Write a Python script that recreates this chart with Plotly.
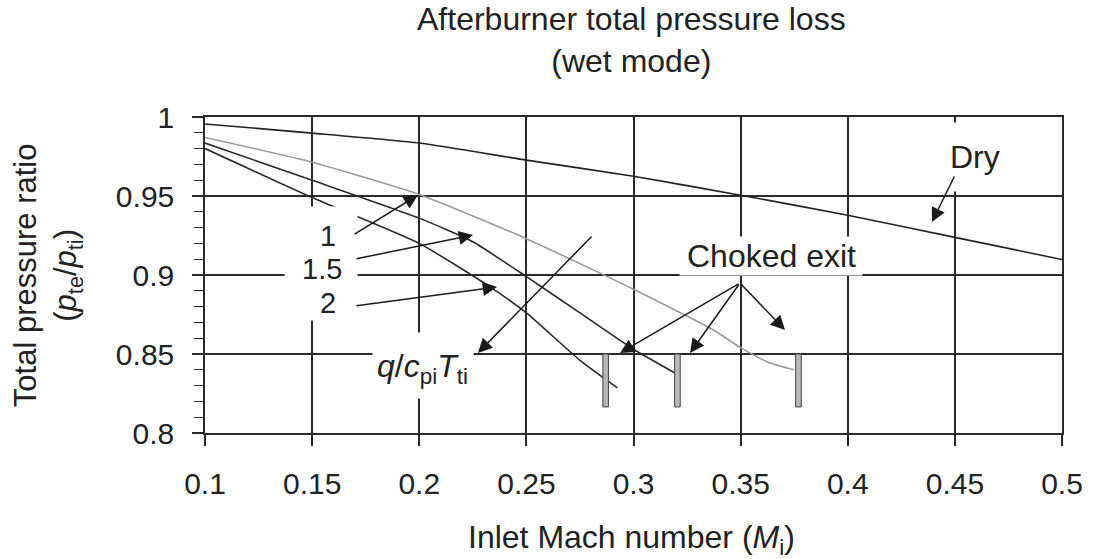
import plotly.graph_objects as go

# ---------------- data ----------------
mach_dry = [0.1, 0.15, 0.2, 0.25, 0.3, 0.35, 0.4, 0.45, 0.5]
p_dry = [0.9956, 0.9898, 0.9835, 0.9727, 0.9625, 0.9505, 0.9378, 0.9238, 0.9098]

mach_q1 = [0.1, 0.15, 0.2, 0.25, 0.3, 0.3375, 0.35, 0.3625, 0.375]
p_q1 = [0.987, 0.9714, 0.951, 0.923, 0.891, 0.865, 0.854, 0.845, 0.840]

mach_q15 = [0.1, 0.15, 0.2, 0.225, 0.25, 0.275, 0.3, 0.32]
p_q15 = [0.9835, 0.960, 0.936, 0.921, 0.899, 0.876, 0.853, 0.8375]

mach_q2 = [0.1, 0.15, 0.2, 0.233, 0.25, 0.275, 0.2925]
p_q2 = [0.980, 0.949, 0.920, 0.8925, 0.876, 0.846, 0.8286]

choke_mach = [0.287, 0.3205, 0.377]
choke_top = 0.85
choke_bottom = 0.8165

x_ticks = [0.1, 0.15, 0.2, 0.25, 0.3, 0.35, 0.4, 0.45, 0.5]
x_ticklabels = ["0.1", "0.15", "0.2", "0.25", "0.3", "0.35", "0.4", "0.45", "0.5"]
y_ticks = [0.8, 0.85, 0.9, 0.95, 1.0]
y_ticklabels = ["0.8", "0.85", "0.9", "0.95", "1"]

FONT = "Liberation Sans, Arial, sans-serif"
INK = "#222222"
GRID = "#2a2a2a"

fig = go.Figure()

fig.add_trace(go.Scatter(x=mach_dry, y=p_dry, mode="lines",
                         line=dict(color="#222222", width=1.6, shape="spline", smoothing=0.5),
                         showlegend=False, hoverinfo="skip"))
fig.add_trace(go.Scatter(x=mach_q1, y=p_q1, mode="lines",
                         line=dict(color="#9a9a9a", width=1.6, shape="spline", smoothing=0.5),
                         showlegend=False, hoverinfo="skip"))
fig.add_trace(go.Scatter(x=mach_q15, y=p_q15, mode="lines",
                         line=dict(color="#2a2a2a", width=1.6, shape="spline", smoothing=0.5),
                         showlegend=False, hoverinfo="skip"))
fig.add_trace(go.Scatter(x=mach_q2, y=p_q2, mode="lines",
                         line=dict(color="#2a2a2a", width=1.6, shape="spline", smoothing=0.5),
                         showlegend=False, hoverinfo="skip"))

# choked exit bars
bar_half = 0.0013
for cx in choke_mach:
    fig.add_shape(type="rect", xref="x", yref="y",
                  x0=cx - bar_half, x1=cx + bar_half, y0=choke_bottom, y1=choke_top,
                  fillcolor="#b8b8b8", line=dict(color="#444444", width=1))

# ---------------- white masks + labels ----------------
def mask(x, y, w, h):
    fig.add_annotation(x=x, y=y, xref="x", yref="y", text=" ", showarrow=False,
                       font=dict(family=FONT, size=10, color="white"),
                       bgcolor="white", width=w, height=h, borderpad=0,
                       xanchor="center", yanchor="middle")

def label(x, y, text, size=32):
    fig.add_annotation(x=x, y=y, xref="x", yref="y", text=text, showarrow=False,
                       font=dict(family=FONT, size=size, color=INK),
                       xanchor="center", yanchor="middle", align="center",
                       valign="middle")

mask(0.4594, 0.9750, 70, 68)
label(0.4594, 0.9750, "Dry")

mask(0.1541, 0.9073, 72, 113)
label(0.1574, 0.9247, "1", size=29)
label(0.1546, 0.9035, "1.5", size=29)
label(0.1574, 0.8823, "2", size=29)

mask(0.2017, 0.8430, 100, 65)
label(0.2017, 0.8410, "<i>q</i>/<i>c</i><sub>pi</sub><i>T</i><sub>ti</sub>")

mask(0.3642, 0.9123, 182, 38)
label(0.3642, 0.9123, "Choked exit")

# ---------------- arrows ----------------
def arrow(tail, tip):
    fig.add_annotation(x=tip[0], y=tip[1], ax=tail[0], ay=tail[1],
                       xref="x", yref="y", axref="x", ayref="y", text="",
                       showarrow=True, arrowhead=2, arrowsize=1.9, arrowwidth=1.5,
                       arrowcolor="#1a1a1a", standoff=0)

arrow((0.4501, 0.9633), (0.4393, 0.9335))
arrow((0.1691, 0.9253), (0.1994, 0.9506))
arrow((0.1700, 0.9101), (0.2251, 0.9253))
arrow((0.1700, 0.8804), (0.2363, 0.8924))
arrow((0.2811, 0.9253), (0.2274, 0.8506))
arrow((0.3497, 0.8949), (0.2937, 0.8506))
arrow((0.3497, 0.8949), (0.3264, 0.8506))
arrow((0.3497, 0.8949), (0.3707, 0.8652))

# ---------------- titles ----------------
fig.add_annotation(x=0.498, y=1.245, xref="paper", yref="paper",
                   text="Afterburner total pressure loss<br>(wet mode)", showarrow=False,
                   font=dict(family=FONT, size=32, color=INK),
                   xanchor="center", yanchor="middle", align="center")
fig.add_annotation(x=0.498, y=-0.338, xref="paper", yref="paper",
                   text="Inlet Mach number (<i>M</i><sub>i</sub>)", showarrow=False,
                   font=dict(family=FONT, size=32, color=INK),
                   xanchor="center", yanchor="middle")
fig.add_annotation(x=-0.183, y=0.50, xref="paper", yref="paper",
                   text="Total pressure ratio<br>(<i>p</i><sub>te</sub>/<i>p</i><sub>ti</sub>)",
                   showarrow=False, textangle=-90,
                   font=dict(family=FONT, size=31, color=INK),
                   xanchor="center", yanchor="middle", align="center")

fig.update_xaxes(range=[0.1, 0.5], tickvals=x_ticks, ticktext=x_ticklabels,
                 showgrid=True, gridcolor=GRID, gridwidth=1.5,
                 showline=True, linecolor=GRID, linewidth=1.5, mirror=True,
                 ticks="outside", ticklen=11, tickcolor=GRID, tickwidth=1.5,
                 ticklabelstandoff=12,
                 tickfont=dict(family=FONT, size=30, color=INK), zeroline=False)
fig.update_yaxes(range=[0.8, 1.0], tickvals=y_ticks, ticktext=y_ticklabels,
                 showgrid=True, gridcolor=GRID, gridwidth=1.5,
                 showline=True, linecolor=GRID, linewidth=1.5, mirror=True,
                 ticks="outside", ticklen=11, tickcolor=GRID, tickwidth=1.5,
                 ticklabelstandoff=12,
                 minor=dict(ticks="outside", dtick=0.01, tick0=0.8, ticklen=9,
                            tickcolor=GRID, tickwidth=1.2, showgrid=False),
                 tickfont=dict(family=FONT, size=30, color=INK), zeroline=False)

fig.update_layout(width=1109, height=559, autosize=False,
                  margin=dict(l=205, r=47, t=117, b=126),
                  plot_bgcolor="white", paper_bgcolor="white",
                  showlegend=False)

fig.write_html("out.html")
